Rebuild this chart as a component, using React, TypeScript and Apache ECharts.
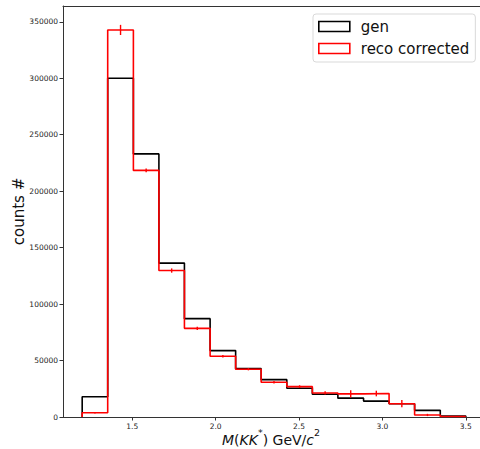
import React, { useEffect, useRef } from "react";
import * as echarts from "echarts";

// Histogram bin edges (GeV/c^2)
const binEdges = [1.2, 1.353, 1.507, 1.66, 1.813, 1.967, 2.12, 2.273, 2.427, 2.58, 2.733, 2.887, 3.04, 3.193, 3.347, 3.5];
// Counts per bin
const genCounts = [18000, 300000, 233000, 136300, 87100, 58800, 42800, 33100, 25400, 20100, 16700, 14100, 11800, 5900, 900];
const recoCounts = [3800, 342800, 218400, 129700, 78500, 53800, 42300, 30800, 26900, 21300, 20500, 20800, 11800, 1800, 500];
const recoErrors = [600, 4500, 1700, 1900, 1500, 1200, 1000, 1100, 1200, 1400, 3200, 2500, 3200, 1000, 400];
// Axis ticks
const xTicks = [1.5, 2.0, 2.5, 3.0, 3.5];
const yTicks = [0, 50000, 100000, 150000, 200000, 250000, 300000, 350000];

const FONT = "DejaVu Sans";

function stepPoints(edges: number[], counts: number[]) {
  const pts: number[][] = [[edges[0], 0]];
  counts.forEach((c, i) => {
    pts.push([edges[i], c]);
    pts.push([edges[i + 1], c]);
  });
  pts.push([edges[edges.length - 1], 0]);
  return pts;
}

export default function App() {
  const ref = useRef<HTMLDivElement>(null);
  useEffect(() => {
    if (!ref.current) return;
    const chart = echarts.init(ref.current, undefined, { renderer: "svg" });
    const centers = recoCounts.map((_, i) => (binEdges[i] + binEdges[i + 1]) / 2);
    const errData = recoCounts.map((v, i) => [centers[i], v - recoErrors[i], v + recoErrors[i]]);
    const axisColor = "#333";
    const xMin = 1.085;
    const xMax = 3.705;
    chart.setOption({
      animation: false,
      backgroundColor: "#fff",
      textStyle: { fontFamily: FONT },
      grid: {
        left: 63,
        top: 6,
        right: -20,
        bottom: 32,
        containLabel: false,
        outerBoundsMode: "none",
        show: false,
      },
      legend: {
        orient: "vertical",
        left: 313,
        top: 14,
        padding: [5, 6, 6, 5],
        itemGap: 7,
        itemWidth: 31,
        itemHeight: 10,
        backgroundColor: "#fff",
        borderColor: "#d9d9d9",
        borderWidth: 1,
        borderRadius: 3,
        textStyle: { fontFamily: FONT, fontSize: 15, color: "#111", padding: [0, 0, 0, 6], lineHeight: 15 },
        data: [
          { name: "gen", icon: "rect", itemStyle: { color: "#fff", borderColor: "#000", borderWidth: 1.6 } },
          { name: "reco corrected", icon: "rect", itemStyle: { color: "#fff", borderColor: "#ff0000", borderWidth: 1.6 } },
        ],
      },
      xAxis: [
        {
          type: "value",
          min: xMin,
          max: xMax,
          splitLine: { show: false },
          axisLine: { show: true, onZero: false, lineStyle: { color: axisColor, width: 1 } },
          axisTick: { show: true, length: 3.5, customValues: xTicks, lineStyle: { color: axisColor } },
          axisLabel: {
            customValues: xTicks,
            formatter: (v: number) => v.toFixed(1),
            fontFamily: FONT,
            fontSize: 7.5,
            color: "#222",
            margin: 5,
          },
          name: "{i|M}{n|(}{i|KK}{s|*}{n|) GeV/}{i|c}{s|2}",
          nameLocation: "start",
          nameGap: -208,
          nameMoveOverlap: false,
          nameTextStyle: {
            align: "center",
            verticalAlign: "top",
            padding: [10, 0, 0, 0],
            rich: {
              i: { fontFamily: FONT, fontSize: 14, fontStyle: "italic", color: "#111", lineHeight: 20, verticalAlign: "bottom" },
              n: { fontFamily: FONT, fontSize: 14, color: "#111", lineHeight: 20, verticalAlign: "bottom" },
              s: { fontFamily: FONT, fontSize: 9.5, color: "#111", lineHeight: 10, verticalAlign: "top" },
            },
          },
        },
        {
          type: "value",
          position: "top",
          min: xMin,
          max: xMax,
          splitLine: { show: false },
          axisLine: { show: true, onZero: false, lineStyle: { color: axisColor, width: 1 } },
          axisTick: { show: false },
          axisLabel: { show: false },
        },
      ],
      yAxis: {
        type: "value",
        min: 0,
        max: 364000,
        splitLine: { show: false },
        axisLine: { show: true, lineStyle: { color: axisColor, width: 1 } },
        axisTick: { show: true, length: 3.5, customValues: yTicks, lineStyle: { color: axisColor } },
        axisLabel: {
          customValues: yTicks,
          formatter: (v: number) => String(v),
          fontFamily: FONT,
          fontSize: 7.5,
          color: "#222",
          margin: 5,
        },
        name: "counts #",
        nameLocation: "middle",
        nameRotate: 90,
        nameGap: 37,
        nameMoveOverlap: false,
        nameTextStyle: { fontFamily: FONT, fontSize: 15, color: "#111" },
      },
      series: [
        {
          name: "gen",
          type: "line",
          data: stepPoints(binEdges, genCounts),
          showSymbol: false,
          symbol: "none",
          lineStyle: { color: "#000", width: 1.6 },
          itemStyle: { color: "#000" },
          z: 2,
        },
        {
          name: "reco corrected",
          type: "line",
          data: stepPoints(binEdges, recoCounts),
          showSymbol: false,
          symbol: "none",
          lineStyle: { color: "#ff0000", width: 1.6 },
          itemStyle: { color: "#ff0000" },
          z: 3,
        },
        {
          name: "reco errors",
          type: "custom",
          data: errData,
          z: 4,
          renderItem: (params: any, api: any) => {
            const lo = api.coord([api.value(0), api.value(1)]);
            const hi = api.coord([api.value(0), api.value(2)]);
            return {
              type: "line",
              shape: { x1: lo[0], y1: lo[1], x2: hi[0], y2: hi[1] },
              style: { stroke: "#ff0000", lineWidth: 1.4 },
            };
          },
        },
      ],
    });
    return () => chart.dispose();
  }, []);
  return <div ref={ref} style={{ position: "absolute", left: 0, top: 0, width: 480, height: 449 }} />;
}
